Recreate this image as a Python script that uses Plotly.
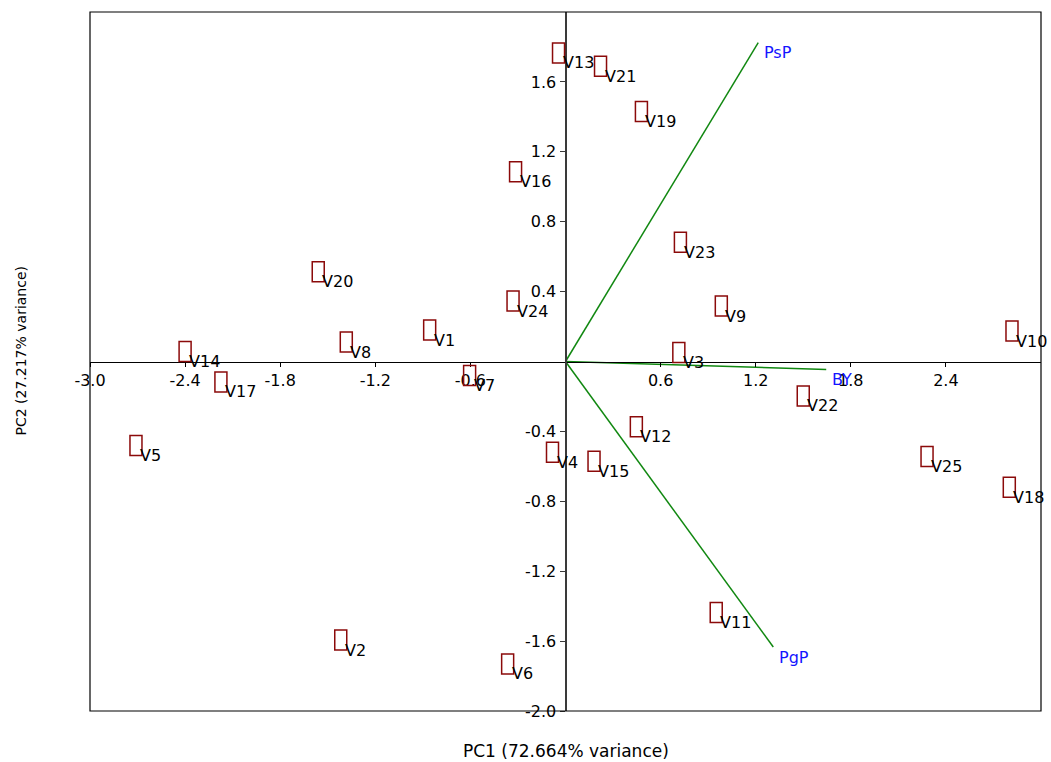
import plotly.graph_objects as go

# PCA biplot: variety scores on PC1/PC2 plus trait loading vectors
varieties = ["V1", "V2", "V3", "V4", "V5", "V6", "V7", "V8", "V9", "V10",
             "V11", "V12", "V13", "V14", "V15", "V16", "V17", "V18", "V19", "V20",
             "V21", "V22", "V23", "V24", "V25"]
pc1_scores = [-0.857, -1.418, 0.715, -0.082, -2.71, -0.365, -0.605, -1.383, 0.983, 2.817,
              0.951, 0.447, -0.044, -2.40, 0.18, -0.315, -2.174, 2.80, 0.479, -1.56,
              0.221, 1.50, 0.725, -0.331, 2.281]
pc2_scores = [0.18, -1.594, 0.051, -0.52, -0.48, -1.731, -0.08, 0.111, 0.317, 0.174,
              -1.437, -0.374, 1.766, 0.057, -0.571, 1.086, -0.117, -0.72, 1.431, 0.514,
              1.689, -0.197, 0.683, 0.346, -0.543]

traits = ["PsP", "BY", "PgP"]
trait_pc1 = [1.216, 1.645, 1.311]
trait_pc2 = [1.825, -0.046, -1.634]

x_ticks = [-3.0, -2.4, -1.8, -1.2, -0.6, 0.6, 1.2, 1.8, 2.4]
y_ticks = [1.6, 1.2, 0.8, 0.4, -0.4, -0.8, -1.2, -1.6, -2.0]

FONT = "DejaVu Sans"
SCORE_RED = "#8B0A0A"
LOADING_GREEN = "#118811"
TRAIT_BLUE = "#1414FF"

fig = go.Figure()

# loading vectors from the origin
for name, vx, vy in zip(traits, trait_pc1, trait_pc2):
    fig.add_trace(go.Scatter(x=[0, vx], y=[0, vy], mode="lines",
                             line=dict(color=LOADING_GREEN, width=1.5),
                             hoverinfo="skip", showlegend=False))

# invisible carrier for hover on the scores
fig.add_trace(go.Scatter(x=pc1_scores, y=pc2_scores, mode="markers",
                         marker=dict(size=12, opacity=0), text=varieties,
                         hoverinfo="text", showlegend=False))

shapes = []
annotations = []

# score symbols: small open boxes centred on each variety's coordinates
for x, y in zip(pc1_scores, pc2_scores):
    shapes.append(dict(type="rect", xref="x", yref="y",
                       xsizemode="pixel", ysizemode="pixel",
                       xanchor=x, yanchor=y, x0=-6, x1=6, y0=-10, y1=10,
                       line=dict(color=SCORE_RED, width=1.5), layer="above"))

for name, x, y in zip(varieties, pc1_scores, pc2_scores):
    annotations.append(dict(x=x, y=y, xref="x", yref="y", text=name,
                            showarrow=False, xanchor="left", yanchor="middle",
                            xshift=2, yshift=-10,
                            font=dict(family=FONT, size=16, color="black")))

for name, x, y in zip(traits, trait_pc1, trait_pc2):
    annotations.append(dict(x=x, y=y, xref="x", yref="y", text=name,
                            showarrow=False, xanchor="left", yanchor="middle",
                            xshift=4, yshift=-10,
                            font=dict(family=FONT, size=16, color=TRAIT_BLUE)))

# plot frame
shapes.append(dict(type="rect", xref="paper", yref="paper", x0=0, x1=1, y0=0, y1=1,
                   line=dict(color="black", width=1.2), layer="above"))

# axis titles
annotations.append(dict(x=0.5, y=0, xref="paper", yref="paper",
                        text="PC1 (72.664% variance)", showarrow=False,
                        xanchor="center", yanchor="middle", yshift=-40,
                        font=dict(family=FONT, size=17, color="black")))
annotations.append(dict(x=0, y=0.5, xref="paper", yref="paper",
                        text="PC2 (27.217% variance)", showarrow=False,
                        textangle=-90, xanchor="center", yanchor="middle",
                        xshift=-70, yshift=11,
                        font=dict(family=FONT, size=14, color="black")))

fig.update_layout(
    width=1051, height=762,
    margin=dict(l=90, r=10, t=12, b=51),
    paper_bgcolor="white", plot_bgcolor="white",
    showlegend=False,
    shapes=shapes,
    annotations=annotations,
    xaxis=dict(range=[-3, 3], anchor="free", position=0.5,
               showgrid=False, zeroline=False,
               showline=True, linecolor="black", linewidth=1.3,
               ticks="outside", ticklen=4, tickcolor="black", tickwidth=1,
               tickvals=x_ticks, ticktext=[f"{v:.1f}" for v in x_ticks],
               tickfont=dict(family=FONT, size=16, color="black")),
    yaxis=dict(range=[-2, 2], anchor="free", position=0.5,
               showgrid=False, zeroline=False,
               showline=True, linecolor="#3a3a3a", linewidth=2,
               ticks="outside", ticklen=5, tickcolor="#3a3a3a", tickwidth=1,
               tickvals=y_ticks, ticktext=[f"{v:.1f}" for v in y_ticks],
               tickfont=dict(family=FONT, size=16, color="black")),
)

fig.write_html("out.html")
